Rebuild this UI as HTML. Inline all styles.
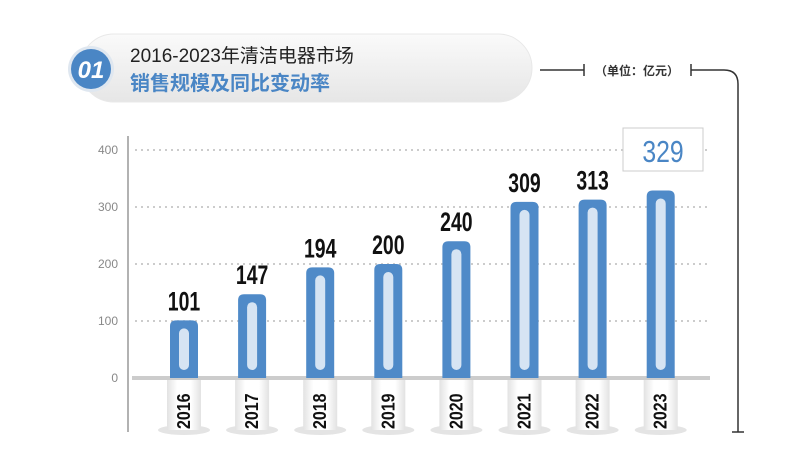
<!DOCTYPE html>
<html><head><meta charset="utf-8"><style>
body{margin:0;width:800px;height:471px;background:#fff;overflow:hidden;font-family:"Liberation Sans","Noto Sans CJK SC",sans-serif}
</style></head><body>
<svg width="800" height="471" viewBox="0 0 800 471" xmlns="http://www.w3.org/2000/svg" font-family="Liberation Sans, Noto Sans CJK SC, sans-serif">
<defs>
<linearGradient id="pill" x1="0" y1="0" x2="0" y2="1"><stop offset="0" stop-color="#fafafa"/><stop offset="1" stop-color="#e6e6e6"/></linearGradient>
<linearGradient id="lab" x1="0" y1="0" x2="1" y2="0"><stop offset="0" stop-color="#e2e2e2"/><stop offset="0.3" stop-color="#fff"/><stop offset="0.7" stop-color="#fff"/><stop offset="1" stop-color="#e2e2e2"/></linearGradient>
</defs>
<rect x="80" y="34" width="452" height="68" rx="34" fill="url(#pill)" stroke="#e8e8e8"/>
<circle cx="91" cy="69" r="23" fill="#dfe7f0"/>
<circle cx="91" cy="69" r="20" fill="#4a86c5"/>
<text x="91" y="78" text-anchor="middle" font-size="24" font-weight="bold" font-style="italic" fill="#fff">01</text>
<text x="130" y="62" font-size="19" fill="#222">2016-2023年清洁电器市场</text>
<text x="130" y="90" font-size="20" font-weight="bold" fill="#4a86c5">销售规模及同比变动率</text>
<line x1="540" y1="70" x2="584" y2="70" stroke="#333" stroke-width="1.5"/>
<line x1="584" y1="64" x2="584" y2="76" stroke="#333" stroke-width="1.5"/>
<text x="637" y="75" text-anchor="middle" font-size="12" font-weight="bold" fill="#333">（单位：亿元）</text>
<line x1="691" y1="64" x2="691" y2="76" stroke="#333" stroke-width="1.5"/>
<path d="M691 70 H724 Q738 70 738 84 V432" fill="none" stroke="#333" stroke-width="1.5"/>
<line x1="732" y1="432" x2="744" y2="432" stroke="#333" stroke-width="1.5"/>
<line x1="128" y1="136" x2="128" y2="432" stroke="#999" stroke-width="1.5"/>
<g stroke="#bbb" stroke-dasharray="2,4" stroke-width="1.5">
<line x1="135" y1="150" x2="710" y2="150"/><line x1="135" y1="207" x2="710" y2="207"/><line x1="135" y1="264" x2="710" y2="264"/><line x1="135" y1="321" x2="710" y2="321"/>
</g>
<line x1="132" y1="378" x2="710" y2="378" stroke="#ccc" stroke-width="4"/>
<g font-size="12" fill="#888" text-anchor="end">
<text x="118" y="154">400</text><text x="118" y="211">300</text><text x="118" y="268">200</text><text x="118" y="325">100</text><text x="118" y="382">0</text>
</g>
<g id="bars"></g>
</svg>
<script>
var d=[[2016,101],[2017,147],[2018,194],[2019,200],[2020,240],[2021,309],[2022,313],[2023,329]];
var g=document.getElementById('bars'),s='';
d.forEach(function(p,i){var cx=184+i*68.1,top=378-p[1]*0.57;
s+='<ellipse cx="'+cx+'" cy="430" rx="26" ry="5" fill="#e4e4e4"/>';
s+='<rect x="'+(cx-17)+'" y="380" width="34" height="50" fill="url(#lab)"/>';
s+='<text transform="translate('+(cx+6)+',429) rotate(-90) scale(1,1.15)" font-size="16" font-weight="bold" fill="#111">'+p[0]+'</text>';
s+='<path d="M'+(cx-14)+' 378 V'+(top+6)+' Q'+(cx-14)+' '+top+' '+(cx-8)+' '+top+' H'+(cx+8)+' Q'+(cx+14)+' '+top+' '+(cx+14)+' '+(top+6)+' V378 Z" fill="#4f8ac8"/>';
s+='<rect x="'+(cx-5)+'" y="'+(top+8)+'" width="10" height="'+(378-top-16)+'" rx="5" fill="#d6e4f3"/>';
if(i<7)s+='<text transform="translate('+cx+','+(top-10)+') scale(0.72,1)" text-anchor="middle" font-size="27" font-weight="bold" fill="#111">'+p[1]+'</text>';
});
s+='<rect x="623" y="128" width="80" height="43" fill="#fff" stroke="#ccc"/>';
s+='<text transform="translate(663,162) scale(0.8,1)" text-anchor="middle" font-size="31" fill="#4a86c5">329</text>';
g.innerHTML=s;
</script>
</body></html>
